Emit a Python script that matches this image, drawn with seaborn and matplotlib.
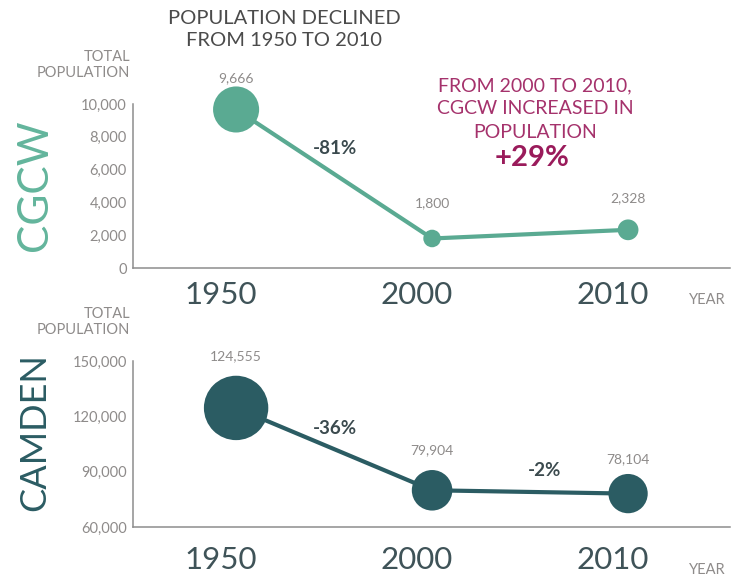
import numpy as np
import pandas as pd
import matplotlib
matplotlib.use("Agg")
import matplotlib.pyplot as plt
from matplotlib.ticker import FixedLocator, FuncFormatter
from matplotlib.transforms import ScaledTranslation
import seaborn as sns

# ---- data -------------------------------------------------------------
years = ["1950", "2000", "2010"]
cgcw_population = [9666, 1800, 2328]
camden_population = [124555, 79904, 78104]
cgcw_yticks = [0, 2000, 4000, 6000, 8000, 10000]
camden_yticks = [60000, 90000, 120000, 150000]

# ---- style ------------------------------------------------------------
sns.set_theme(style="white")
plt.rcParams["font.family"] = ["Lato", "DejaVu Sans"]

TEAL = "#5aaa92"
TEAL_LABEL = "#63b59c"
DARK_TEAL = "#2b5c63"
GRAY = "#8e8b8a"
AXIS = "#8d8d8d"
YEAR_COL = "#3f5358"
PCT_COL = "#3b4a4e"
TITLE_COL = "#4b4b4b"
MAGENTA = "#a5326c"
MAGENTA_DARK = "#9a1b5b"

fig = plt.figure(figsize=(7.44, 5.78), dpi=100)
W, H = 744, 578
ax_top = fig.add_axes([133 / W, 310 / H, 597 / W, 164 / H])
ax_bot = fig.add_axes([133 / W, 51 / H, 597 / W, 166 / H])

pos = np.arange(len(years))


def draw_panel(ax, values, color, sizes, ylim, yticks, xpad, value_dy,
               year_dy):
    df = pd.DataFrame({"pos": pos, "population": values})
    sns.lineplot(data=df, x="pos", y="population", color=color,
                 linewidth=3.0, ax=ax, zorder=2, clip_on=False)
    sns.scatterplot(data=df, x="pos", y="population", size="population",
                    sizes=sizes, color=color, edgecolor="none", linewidth=0,
                    legend=False, ax=ax, zorder=3, clip_on=False)
    ax.set_xlim(-0.526, 2.52)
    ax.set_ylim(*ylim)
    ax.set_xlabel("")
    ax.set_ylabel("")
    for side in ("top", "right"):
        ax.spines[side].set_visible(False)
    for side in ("left", "bottom"):
        ax.spines[side].set_color(AXIS)
        ax.spines[side].set_linewidth(1.1)

    ax.set_yticks(yticks)
    ax.yaxis.set_major_formatter(FuncFormatter(lambda v, _: f"{int(v):,}"))
    ax.tick_params(axis="y", direction="in", length=11, width=1.1,
                   color=AXIS, labelcolor=GRAY, labelsize=10.5, pad=4.5)

    ax.set_xticks(pos, labels=years)
    ax.xaxis.set_minor_locator(FixedLocator([0.5, 1.5]))
    ax.tick_params(axis="x", which="major", length=0, pad=xpad,
                   labelsize=22.5, labelcolor=YEAR_COL)
    ax.tick_params(axis="x", which="minor", direction="in", length=4,
                   width=1.1, color=AXIS)
    shift = ScaledTranslation(-15 / 100, 0, fig.dpi_scale_trans)
    for lab in ax.get_xticklabels():
        lab.set_transform(lab.get_transform() + shift)

    # value labels above each point
    for i, v in enumerate(values):
        ax.annotate(f"{v:,}", xy=(i, v), xytext=(0, value_dy[i]),
                    textcoords="offset pixels", ha="center", va="center",
                    fontsize=10, color=GRAY, annotation_clip=False)

    # axis captions
    ax.annotate("TOTAL\nPOPULATION", xy=(0, 1), xycoords="axes fraction",
                xytext=(-3, 39), textcoords="offset pixels", ha="right",
                va="center", multialignment="right", fontsize=10.5,
                color=GRAY, linespacing=1.15)
    ax.annotate("YEAR", xy=(1, 0), xycoords="axes fraction",
                xytext=(-23, -year_dy), textcoords="offset pixels",
                ha="center", va="center", fontsize=10.5, color=GRAY)


def pct_change(a, b):
    return round((b - a) / a * 100)


draw_panel(ax_top, cgcw_population, TEAL, (160, 1100), (0, 10000),
           cgcw_yticks, 9, [31.5, 35, 31.5], 32)
draw_panel(ax_bot, camden_population, DARK_TEAL, (800, 2150),
           (60000, 150000), camden_yticks, 13.5, [51.5, 40, 34], 43)


# percentage changes along the segments
def seg_label(ax, values, i, dx, dy):
    mid_x = i + 0.5
    mid_y = (values[i] + values[i + 1]) / 2
    ch = pct_change(values[i], values[i + 1])
    ax.annotate(f"{ch:+d}%", xy=(mid_x, mid_y), xytext=(dx, dy),
                textcoords="offset pixels", ha="center", va="center",
                fontsize=13.5, fontweight="bold", color=PCT_COL,
                annotation_clip=False)


seg_label(ax_top, cgcw_population, 0, 1, 25)
seg_label(ax_bot, camden_population, 0, 1, 20.5)
seg_label(ax_bot, camden_population, 1, 14, 21)

# panel names
fig.text(35 / W, 1 - 185 / H, "CGCW", rotation=90, ha="center", va="center",
         fontsize=30.5, color=TEAL_LABEL)
fig.text(35 / W, 1 - 432 / H, "CAMDEN", rotation=90, ha="center",
         va="center", fontsize=26, color=DARK_TEAL)

# headline
fig.text(284 / W, 1 - 29.5 / H, "POPULATION DECLINED\nFROM 1950 TO 2010",
         ha="center", va="center", fontsize=14.5, color=TITLE_COL,
         linespacing=1.3)

# callout on recent growth
fig.text(535 / W, 1 - 109 / H,
         "FROM 2000 TO 2010,\nCGCW INCREASED IN\nPOPULATION",
         ha="center", va="center", fontsize=14, color=MAGENTA,
         linespacing=1.45)
growth = pct_change(cgcw_population[1], cgcw_population[2])
fig.text(532 / W, 1 - 158 / H, f"+{growth}%", ha="center", va="center",
         fontsize=21, fontweight="bold", color=MAGENTA_DARK)

fig.savefig("out.png", dpi=100, facecolor="white")
